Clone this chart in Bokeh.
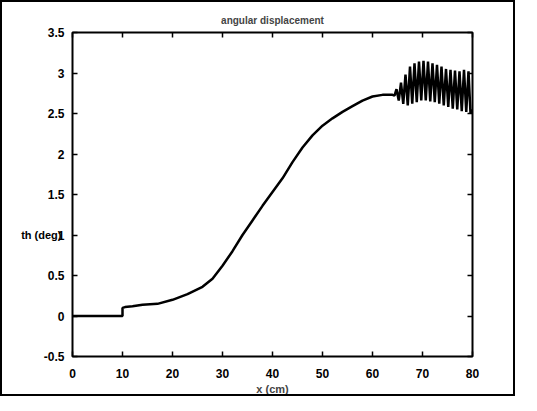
from bokeh.plotting import figure
from bokeh.models import Range1d, LinearAxis, FixedTicker
from bokeh.embed import file_html
from bokeh.resources import INLINE

# ---- data ----
x_rise = [0, 10, 10, 10.5, 12, 14, 17, 20, 23, 26, 28, 30, 32, 34, 36, 38, 40, 42,
          44, 46, 48, 50, 52, 54, 56, 58, 60, 62, 64, 64.4]
th_rise = [0, 0, 0.10, 0.11, 0.12, 0.14, 0.15, 0.20, 0.27, 0.36, 0.46, 0.62, 0.80, 1.00,
           1.18, 1.36, 1.53, 1.70, 1.90, 2.08, 2.23, 2.35, 2.44, 2.52, 2.59, 2.66, 2.71,
           2.73, 2.73, 2.72]
x_osc = [64.8, 65.25, 65.7, 66.15, 66.6, 67.05, 67.5, 67.95, 68.4, 68.85, 69.3, 69.75,
         70.2, 70.65, 71.1, 71.55, 72.0, 72.45, 72.9, 73.35, 73.8, 74.25, 74.7, 75.15,
         75.6, 76.05, 76.5, 76.95, 77.4, 77.85, 78.3, 78.75, 79.2, 79.6, 80.0]
th_osc = [2.80, 2.66, 2.88, 2.62, 2.98, 2.60, 3.08, 2.62, 3.12, 2.64, 3.14, 2.66,
          3.15, 2.66, 3.14, 2.65, 3.12, 2.64, 3.10, 2.62, 3.08, 2.60, 3.05, 2.58,
          3.04, 2.56, 3.03, 2.55, 3.02, 2.53, 3.04, 2.52, 3.02, 2.50, 2.55]

x_ticks = [0, 10, 20, 30, 40, 50, 60, 70, 80]
y_ticks = [-0.5, 0, 0.5, 1, 1.5, 2, 2.5, 3, 3.5]
y_tick_labels = ["-0.5", "0", "0.5", "1", "1.5", "2", "2.5", "3", "3.5"]

title_text = "angular displacement"
x_label = "x (cm)"
y_label = "th (deg)"
y_label_at = 1

FONT = "Liberation Sans"

p = figure(width=515, height=396, output_backend="svg", toolbar_location=None,
           x_range=Range1d(x_ticks[0], x_ticks[-1]), y_range=Range1d(y_ticks[0], y_ticks[-1]),
           min_border_left=70, min_border_right=45, min_border_top=30,
           min_border_bottom=42)
p.styles = {"border": "2px solid black"}
p.background_fill_color = "white"
p.border_fill_color = "white"
p.grid.visible = False
p.outline_line_color = "black"
p.outline_line_width = 2

p.title.text = title_text
p.title.align = "center"
p.title.text_font = FONT
p.title.text_font_size = "10px"
p.title.text_font_style = "bold"
p.title.offset = 0
p.title.standoff = 14

xs = x_rise + x_osc
ys = th_rise + th_osc
p.line(xs, ys, line_color="black", line_width=2.5)

def style_axis(ax, ticks, standoff):
    ax.ticker = FixedTicker(ticks=ticks)
    ax.major_tick_in = 5
    ax.major_tick_out = 0
    ax.minor_tick_line_color = None
    ax.axis_line_color = None
    ax.major_tick_line_color = "black"
    ax.major_tick_line_width = 1.5
    ax.major_label_text_font = FONT
    ax.major_label_text_font_style = "bold"
    ax.major_label_text_font_size = "12px"
    ax.major_label_text_color = "black"
    ax.major_label_standoff = standoff

style_axis(p.xaxis[0], x_ticks, 12)
style_axis(p.yaxis[0], y_ticks, 8)
p.yaxis[0].major_label_overrides = {t: s for t, s in zip(y_ticks, y_tick_labels)}
p.xaxis[0].major_label_overrides = {t: str(t) for t in x_ticks}

p.xaxis[0].axis_label = x_label
p.xaxis[0].axis_label_text_font = FONT
p.xaxis[0].axis_label_text_font_style = "bold"
p.xaxis[0].axis_label_text_font_size = "11px"
p.xaxis[0].axis_label_standoff = 2

top = LinearAxis()
style_axis(top, x_ticks, 0)
top.major_label_overrides = {t: "" for t in x_ticks}
p.add_layout(top, "above")
right = LinearAxis()
style_axis(right, y_ticks, 0)
right.major_label_overrides = {t: "" for t in y_ticks}
p.add_layout(right, "right")

# horizontal y label (MATLAB style), drawn as a label-only axis that overlaps the tick labels
ylab = LinearAxis(ticker=FixedTicker(ticks=[y_label_at]),
                  major_label_overrides={y_label_at: y_label},
                  major_label_standoff=-27,
                  axis_line_color=None, major_tick_line_color=None,
                  minor_tick_line_color=None,
                  major_label_text_font=FONT, major_label_text_font_style="bold",
                  major_label_text_font_size="11px", major_label_text_color="black")
p.add_layout(ylab, "left")

open("out.html", "w").write(file_html(p, INLINE))
